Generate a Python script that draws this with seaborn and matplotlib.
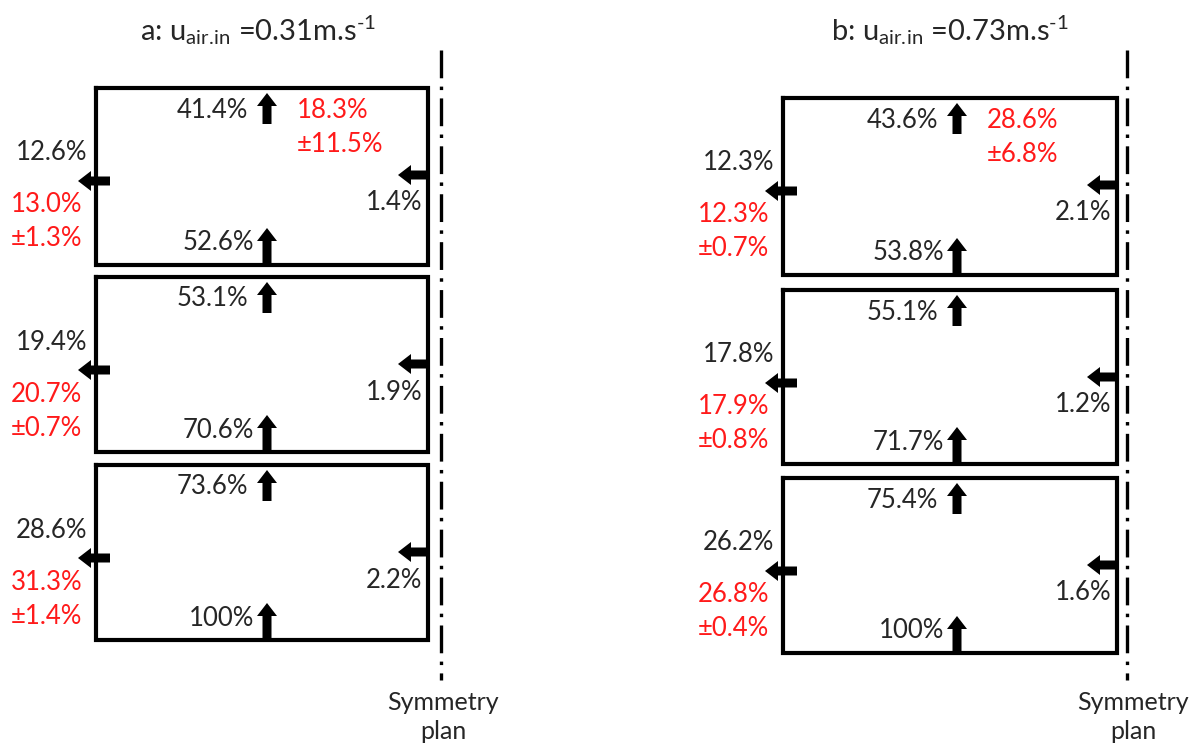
import matplotlib
matplotlib.use("Agg")
import matplotlib.pyplot as plt
import pandas as pd
import seaborn as sns

# ---- flow fractions per floor (top floor first) ----
a_top_out = ["41.4%", "53.1%", "73.6%"]
a_bottom_in = ["52.6%", "70.6%", "100%"]
a_left_out = ["12.6%", "19.4%", "28.6%"]
a_left_meas = ["13.0%\n±1.3%", "20.7%\n±0.7%", "31.3%\n±1.4%"]
a_right_in = ["1.4%", "1.9%", "2.2%"]
a_top_meas = "18.3%\n±11.5%"

b_top_out = ["43.6%", "55.1%", "75.4%"]
b_bottom_in = ["53.8%", "71.7%", "100%"]
b_left_out = ["12.3%", "17.8%", "26.2%"]
b_left_meas = ["12.3%\n±0.7%", "17.9%\n±0.8%", "26.8%\n±0.4%"]
b_right_in = ["2.1%", "1.2%", "1.6%"]
b_top_meas = "28.6%\n±6.8%"

titles = [r"a: u$_{\mathrm{air{.}\!in}}$ =0.31m.s$^{\text{-}1}$",
          r"b: u$_{\mathrm{air{.}\!in}}$ =0.73m.s$^{\text{-}1}$"]
sym_label = "Symmetry\nplan"

sns.set_theme(style="white")
FONT = "Lato"
plt.rcParams["font.family"] = [FONT, "DejaVu Sans"]
plt.rcParams["mathtext.fontset"] = "custom"
plt.rcParams["mathtext.rm"] = FONT
plt.rcParams["mathtext.it"] = FONT
plt.rcParams["mathtext.default"] = "regular"
plt.rcParams["lines.scale_dashes"] = False

RED = "#ff1a1a"
FS = 18.5

fig = plt.figure(figsize=(12.02, 7.46), dpi=100)
ax = fig.add_axes([0, 0, 1, 1])

panels = [
    dict(left=96, right=428, ax_x=267, tops=[88, 277, 465], bottoms=[265, 452, 640],
         sym_x=441, title_x=258, sym_text_x=443,
         top_out=a_top_out, bottom_in=a_bottom_in, left_out=a_left_out,
         left_meas=a_left_meas, right_in=a_right_in, top_meas=a_top_meas),
    dict(left=783, right=1117, ax_x=957, tops=[98, 290, 478], bottoms=[275, 464, 653],
         sym_x=1127, title_x=950, sym_text_x=1133,
         top_out=b_top_out, bottom_in=b_bottom_in, left_out=b_left_out,
         left_meas=b_left_meas, right_in=b_right_in, top_meas=b_top_meas),
]

arrow_kw = dict(width=9, head_width=20, head_length=13, length_includes_head=True,
                color="black", lw=0, zorder=4)

for pi, p in enumerate(panels):
    L, R, X = p["left"], p["right"], p["ax_x"]
    for i, (t, b) in enumerate(zip(p["tops"], p["bottoms"])):
        # floor outline
        box = pd.DataFrame({"x": [L, R, R, L, L], "y": [t, t, b, b, t]})
        sns.lineplot(data=box, x="x", y="y", sort=False, estimator=None, ax=ax,
                     color="black", lw=3.0, solid_joinstyle="miter",
                     solid_capstyle="projecting", zorder=3)
        # upward flow leaving through the ceiling
        ax.arrow(X, t + 36, 0, -31, **arrow_kw)
        # upward flow entering through the floor
        ax.arrow(X, b, 0, -37, **arrow_kw)
        # lateral outflow on the facade side
        ay = t + 93
        ax.arrow(L + 14, ay, -32, 0, **arrow_kw)
        # inflow from the symmetry side
        ry = t + 87
        ax.arrow(R, ry, -30, 0, **arrow_kw)

        ax.text(X - 19, t + 22, p["top_out"][i], ha="right", va="center", fontsize=FS)
        ax.text(X - 13, b - 22, p["bottom_in"][i], ha="right", va="center", fontsize=FS)
        ax.text(L - 9, t + 65, p["left_out"][i], ha="right", va="center", fontsize=FS)
        ax.text(L - 14, t + 134, p["left_meas"][i], ha="right", va="center",
                fontsize=FS, color=RED, linespacing=1.45)
        ax.text(R - 6, t + 115, p["right_in"][i], ha="right", va="center", fontsize=FS)
        if i == 0:
            ax.text(X + 30, t + 39, p["top_meas"], ha="left", va="center",
                    fontsize=FS, color=RED, linespacing=1.45)

    # symmetry plane
    sym = pd.DataFrame({"x": [p["sym_x"], p["sym_x"]], "y": [50, 680]})
    sns.lineplot(data=sym, x="x", y="y", sort=False, estimator=None, ax=ax,
                 color="black", lw=2.4, dashes=False, zorder=2)
    ax.lines[-1].set_dashes((20, 6, 2.5, 6))
    ax.text(p["sym_text_x"], 717, sym_label, ha="center", va="center",
            fontsize=18, linespacing=1.35)

    ax.text(p["title_x"], 30, titles[pi], ha="center", va="center", fontsize=21)

ax.set_xlim(0, 1202)
ax.set_ylim(746, 0)
ax.axis("off")

fig.savefig("out.png", dpi=100, facecolor="white")
